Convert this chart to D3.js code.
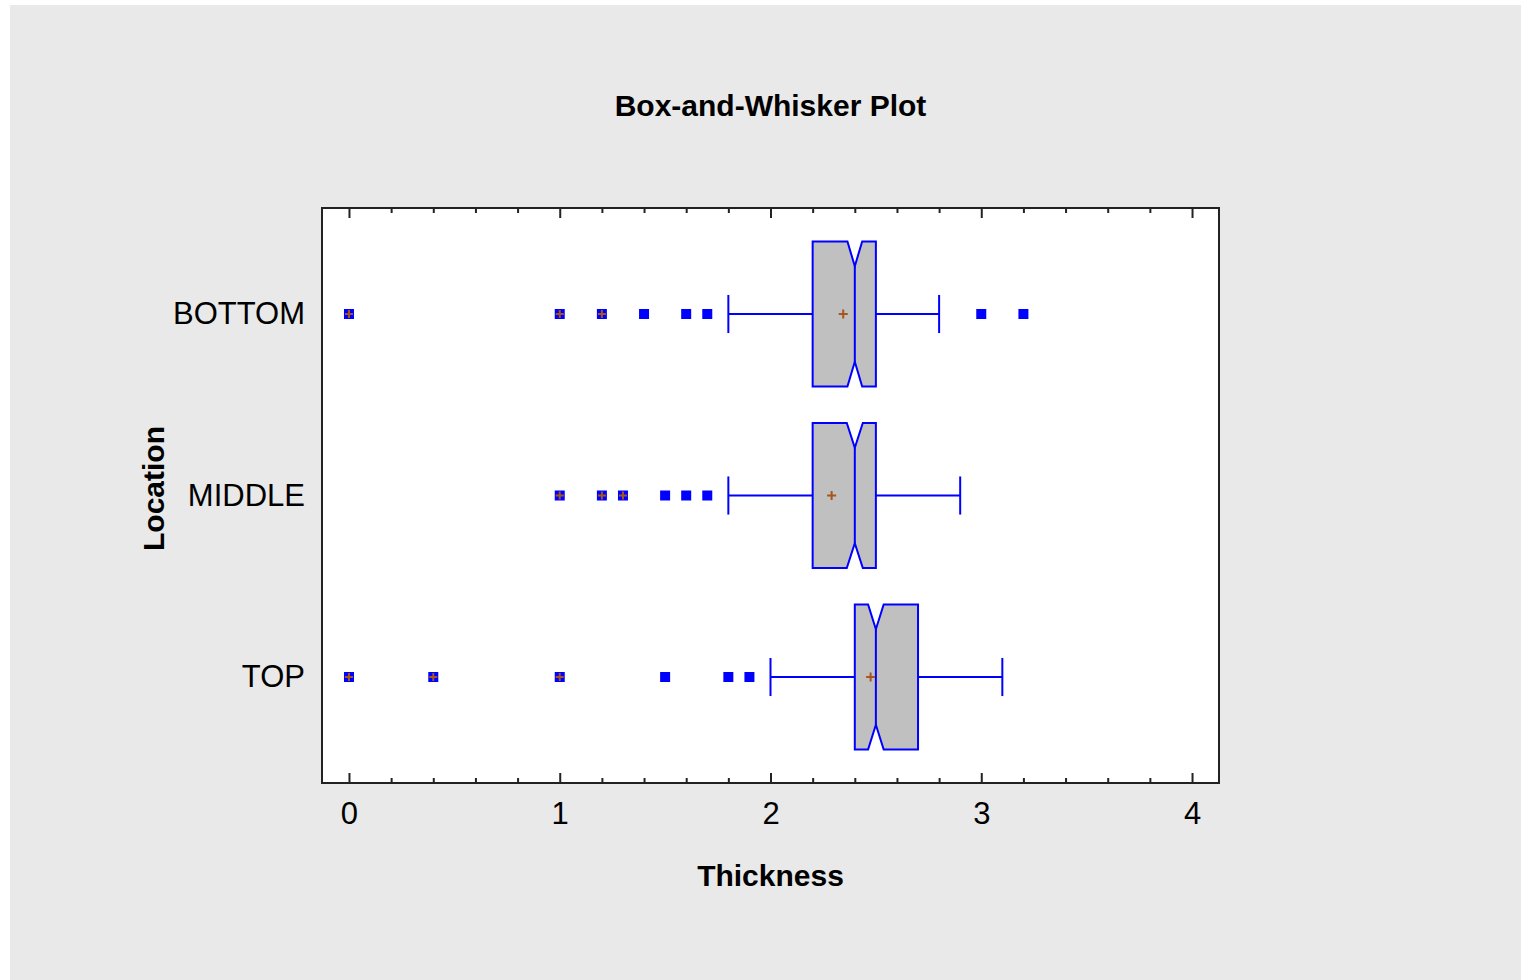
<!DOCTYPE html>
<html>
<head>
<meta charset="utf-8">
<script src="https://cdn.jsdelivr.net/npm/d3@7"></script>
<style>
  body { margin: 0; background: #fff; }
  text { font-family: "Liberation Sans", Arial, sans-serif; fill: #000; }
</style>
</head>
<body>
<div id="chart"></div>
<script>
// Données
const categories = ["BOTTOM", "MIDDLE", "TOP"];
const q1 = [2.2, 2.2, 2.4];
const medians = [2.4, 2.4, 2.5];
const q3 = [2.5, 2.5, 2.7];
const whiskerLow = [1.8, 1.8, 2.0];
const whiskerHigh = [2.8, 2.9, 3.1];
const means = [2.345, 2.29, 2.475];
const notchLow = [2.365, 2.362, 2.463];
const notchHigh = [2.435, 2.438, 2.537];
const outliers = [[1.4, 1.6, 1.7, 3.0, 3.2], [1.5, 1.6, 1.7], [1.5, 1.8, 1.9]];
const farOutliers = [[0, 1.0, 1.2], [1.0, 1.2, 1.3], [0, 0.4, 1.0]];
const majorTicks = [0, 1, 2, 3, 4];
const minorTicks = d3.range(0, 21).map(i => i / 5);

// Dimensions
const W = 1521, H = 980;
const plot = {left: 322, right: 1219, top: 208, bottom: 783};
const blue = "#0000ff";
const brown = "#a5561c";

const svg = d3.select("#chart").append("svg")
  .attr("width", W)
  .attr("height", H);

// fond gris
svg.append("rect")
  .attr("x", 10).attr("y", 5)
  .attr("width", W - 10).attr("height", H - 5)
  .attr("fill", "#e9e9e9");

// cadre du graphique
svg.append("rect")
  .attr("x", plot.left).attr("y", plot.top)
  .attr("width", plot.right - plot.left).attr("height", plot.bottom - plot.top)
  .attr("fill", "#fff");

// échelles
const x = d3.scaleLinear()
  .domain([-0.128, 4.128])
  .range([plot.left, plot.right]);

const y = d3.scalePoint()
  .domain(categories)
  .range([plot.top, plot.bottom])
  .padding(0.584);

const step = y.step();
const boxHalf = step * 0.4;
const notchDepth = step * 0.137;
const capHalf = step * 0.105;

// graduations (bas et haut, vers l'intérieur)
function ticks(axisFn, yPos, values, size, withLabels) {
  const a = axisFn(x).tickValues(values).tickSize(-size).tickPadding(19)
    .tickFormat(withLabels ? d3.format("d") : "");
  const g = svg.append("g")
    .attr("transform", `translate(0,${yPos})`)
    .call(a);
  g.select(".domain").remove();
  g.selectAll("line").attr("stroke", "#222").attr("stroke-width", 2);
  g.selectAll("text").style("font-size", "31px").attr("fill", "#000");
  return g;
}
ticks(d3.axisBottom, plot.bottom, minorTicks.filter(v => !majorTicks.includes(v)), 5, false);
ticks(d3.axisBottom, plot.bottom, majorTicks, 10, true);
ticks(d3.axisTop, plot.top, minorTicks.filter(v => !majorTicks.includes(v)), 5, false);
ticks(d3.axisTop, plot.top, majorTicks, 10, false);

// axe Y (étiquettes des catégories)
const gy = svg.append("g")
  .attr("transform", `translate(${plot.left},0)`)
  .call(d3.axisLeft(y).tickSize(0).tickPadding(17));
gy.select(".domain").remove();
gy.selectAll("text").style("font-size", "31px").attr("fill", "#000");

// bordure du cadre
svg.append("rect")
  .attr("x", plot.left).attr("y", plot.top)
  .attr("width", plot.right - plot.left).attr("height", plot.bottom - plot.top)
  .attr("fill", "none")
  .attr("stroke", "#222")
  .attr("stroke-width", 2);

// données par catégorie
const rows = categories.map((c, i) => ({
  cat: c, q1: q1[i], med: medians[i], q3: q3[i],
  lo: whiskerLow[i], hi: whiskerHigh[i], mean: means[i],
  nLo: notchLow[i], nHi: notchHigh[i]
}));

const boxes = svg.append("g");

// moustaches
boxes.selectAll(".whisker")
  .data(rows.flatMap(d => [[d.lo, d.q1, d.cat], [d.q3, d.hi, d.cat]]))
  .join("line")
    .attr("x1", d => x(d[0]))
    .attr("x2", d => x(d[1]))
    .attr("y1", d => y(d[2]))
    .attr("y2", d => y(d[2]))
    .attr("stroke", blue).attr("stroke-width", 2);

// embouts des moustaches
boxes.selectAll(".cap")
  .data(rows.flatMap(d => [[d.lo, d.cat], [d.hi, d.cat]]))
  .join("line")
    .attr("x1", d => x(d[0]))
    .attr("x2", d => x(d[0]))
    .attr("y1", d => y(d[1]) - capHalf)
    .attr("y2", d => y(d[1]) + capHalf)
    .attr("stroke", blue).attr("stroke-width", 2);

// boîtes avec encoche
function notchPath(d) {
  const cy = y(d.cat);
  const t = cy - boxHalf, b = cy + boxHalf;
  const p = d3.path();
  p.moveTo(x(d.q1), t);
  p.lineTo(x(d.nLo), t);
  p.lineTo(x(d.med), t + notchDepth);
  p.lineTo(x(d.nHi), t);
  p.lineTo(x(d.q3), t);
  p.lineTo(x(d.q3), b);
  p.lineTo(x(d.nHi), b);
  p.lineTo(x(d.med), b - notchDepth);
  p.lineTo(x(d.nLo), b);
  p.lineTo(x(d.q1), b);
  p.closePath();
  return p.toString();
}
boxes.selectAll(".box")
  .data(rows)
  .join("path")
    .attr("d", notchPath)
    .attr("fill", "#c0c0c0")
    .attr("stroke", blue).attr("stroke-width", 2);

// médianes
boxes.selectAll(".median")
  .data(rows)
  .join("line")
    .attr("x1", d => x(d.med))
    .attr("x2", d => x(d.med))
    .attr("y1", d => y(d.cat) - boxHalf + notchDepth)
    .attr("y2", d => y(d.cat) + boxHalf - notchDepth)
    .attr("stroke", blue).attr("stroke-width", 2);

// croix pour moyennes et points très éloignés
function plus(g, data, size) {
  g.selectAll(null)
    .data(data)
    .join("path")
      .attr("d", d => {
        const cx = x(d[0]), cy = y(d[1]);
        return `M${cx - size},${cy}H${cx + size}M${cx},${cy - size}V${cy + size}`;
      })
      .attr("stroke", brown).attr("stroke-width", 2)
      .attr("fill", "none");
}
plus(boxes, rows.map(d => [d.mean, d.cat]), 4.5);

// points extérieurs
const pts = svg.append("g");
const sq = 10;
const allOut = categories.flatMap((c, i) =>
  outliers[i].map(v => [v, c]).concat(farOutliers[i].map(v => [v, c])));
pts.selectAll("rect")
  .data(allOut)
  .join("rect")
    .attr("x", d => x(d[0]) - sq / 2)
    .attr("y", d => y(d[1]) - sq / 2)
    .attr("width", sq).attr("height", sq)
    .attr("fill", blue);
plus(pts, categories.flatMap((c, i) => farOutliers[i].map(v => [v, c])), 4);

// titres
svg.append("text")
  .attr("x", (plot.left + plot.right) / 2).attr("y", 116)
  .attr("text-anchor", "middle")
  .style("font-size", "30px").style("font-weight", "bold")
  .text("Box-and-Whisker Plot");

svg.append("text")
  .attr("x", (plot.left + plot.right) / 2).attr("y", 886)
  .attr("text-anchor", "middle")
  .style("font-size", "30px").style("font-weight", "bold")
  .text("Thickness");

svg.append("text")
  .attr("transform", `translate(164,${(plot.top + plot.bottom) / 2 - 7}) rotate(-90)`)
  .attr("text-anchor", "middle")
  .style("font-size", "30px").style("font-weight", "bold")
  .text("Location");
</script>
</body>
</html>
